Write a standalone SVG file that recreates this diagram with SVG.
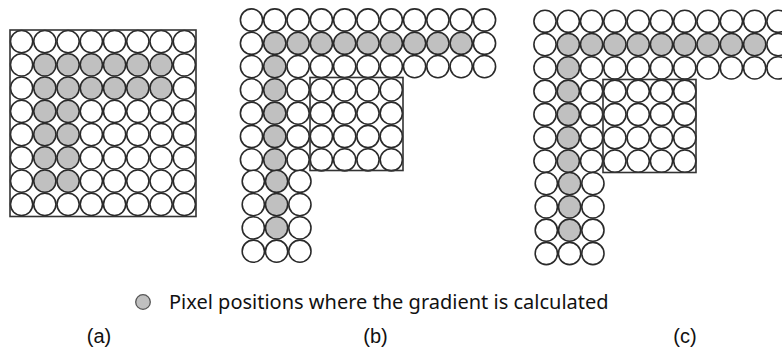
<svg xmlns="http://www.w3.org/2000/svg" width="782" height="348" viewBox="0 0 782 348">
<style>
.o{fill:#fff;stroke:#2a2a2a;stroke-width:1.6;r:11.1px}
.s{fill:#c0c0c0;stroke:#2a2a2a;stroke-width:1.6;r:11.1px}
.box{fill:none;stroke:#333;stroke-width:1.6}
.lbl{font-family:"Liberation Sans",Arial,sans-serif;font-size:20px;fill:#111;text-anchor:middle}
.leg{font-family:"Noto Sans","Open Sans",sans-serif;font-size:20px;fill:#111}
</style>
<rect width="782" height="348" fill="#fff"/>
<g id="panel-a">
<g transform="translate(0,41.6)"><circle class="o" cx="21.6"/><circle class="o" cx="44.85"/><circle class="o" cx="68.1"/><circle class="o" cx="91.35"/><circle class="o" cx="114.6"/><circle class="o" cx="137.85"/><circle class="o" cx="161.1"/><circle class="o" cx="184.35"/></g>
<g transform="translate(0,64.85)"><circle class="o" cx="21.6"/><circle class="s" cx="44.85"/><circle class="s" cx="68.1"/><circle class="s" cx="91.35"/><circle class="s" cx="114.6"/><circle class="s" cx="137.85"/><circle class="s" cx="161.1"/><circle class="o" cx="184.35"/></g>
<g transform="translate(0,88.1)"><circle class="o" cx="21.6"/><circle class="s" cx="44.85"/><circle class="s" cx="68.1"/><circle class="s" cx="91.35"/><circle class="s" cx="114.6"/><circle class="s" cx="137.85"/><circle class="s" cx="161.1"/><circle class="o" cx="184.35"/></g>
<g transform="translate(0,111.35)"><circle class="o" cx="21.6"/><circle class="s" cx="44.85"/><circle class="s" cx="68.1"/><circle class="o" cx="91.35"/><circle class="o" cx="114.6"/><circle class="o" cx="137.85"/><circle class="o" cx="161.1"/><circle class="o" cx="184.35"/></g>
<g transform="translate(0,134.6)"><circle class="o" cx="21.6"/><circle class="s" cx="44.85"/><circle class="s" cx="68.1"/><circle class="o" cx="91.35"/><circle class="o" cx="114.6"/><circle class="o" cx="137.85"/><circle class="o" cx="161.1"/><circle class="o" cx="184.35"/></g>
<g transform="translate(0,157.85)"><circle class="o" cx="21.6"/><circle class="s" cx="44.85"/><circle class="s" cx="68.1"/><circle class="o" cx="91.35"/><circle class="o" cx="114.6"/><circle class="o" cx="137.85"/><circle class="o" cx="161.1"/><circle class="o" cx="184.35"/></g>
<g transform="translate(0,181.1)"><circle class="o" cx="21.6"/><circle class="s" cx="44.85"/><circle class="s" cx="68.1"/><circle class="o" cx="91.35"/><circle class="o" cx="114.6"/><circle class="o" cx="137.85"/><circle class="o" cx="161.1"/><circle class="o" cx="184.35"/></g>
<g transform="translate(0,204.35)"><circle class="o" cx="21.6"/><circle class="o" cx="44.85"/><circle class="o" cx="68.1"/><circle class="o" cx="91.35"/><circle class="o" cx="114.6"/><circle class="o" cx="137.85"/><circle class="o" cx="161.1"/><circle class="o" cx="184.35"/></g>
<rect class="box" x="10" y="30" width="186" height="186.5"/>
</g>
<g id="panel-b">
<g transform="translate(0,20)"><circle class="o" cx="251.5"/><circle class="o" cx="274.8"/><circle class="o" cx="298.1"/><circle class="o" cx="321.4"/><circle class="o" cx="344.7"/><circle class="o" cx="368"/><circle class="o" cx="391.3"/><circle class="o" cx="414.6"/><circle class="o" cx="437.9"/><circle class="o" cx="461.2"/><circle class="o" cx="484.5"/></g>
<g transform="translate(0,43.3)"><circle class="o" cx="251.5"/><circle class="s" cx="274.8"/><circle class="s" cx="298.1"/><circle class="s" cx="321.4"/><circle class="s" cx="344.7"/><circle class="s" cx="368"/><circle class="s" cx="391.3"/><circle class="s" cx="414.6"/><circle class="s" cx="437.9"/><circle class="s" cx="461.2"/><circle class="o" cx="484.5"/></g>
<g transform="translate(0,66.6)"><circle class="o" cx="251.5"/><circle class="s" cx="274.8"/><circle class="o" cx="298.1"/><circle class="o" cx="321.4"/><circle class="o" cx="344.7"/><circle class="o" cx="368"/><circle class="o" cx="391.3"/><circle class="o" cx="414.6"/><circle class="o" cx="437.9"/><circle class="o" cx="461.2"/><circle class="o" cx="484.5"/></g>
<g transform="translate(0,89.9)"><circle class="o" cx="251.5"/><circle class="s" cx="274.8"/><circle class="o" cx="298.1"/><circle class="o" cx="321.4"/><circle class="o" cx="344.7"/><circle class="o" cx="368"/><circle class="o" cx="391.3"/></g>
<g transform="translate(0,113.2)"><circle class="o" cx="251.5"/><circle class="s" cx="274.8"/><circle class="o" cx="298.1"/><circle class="o" cx="321.4"/><circle class="o" cx="344.7"/><circle class="o" cx="368"/><circle class="o" cx="391.3"/></g>
<g transform="translate(0,136.5)"><circle class="o" cx="251.5"/><circle class="s" cx="274.8"/><circle class="o" cx="298.1"/><circle class="o" cx="321.4"/><circle class="o" cx="344.7"/><circle class="o" cx="368"/><circle class="o" cx="391.3"/></g>
<g transform="translate(0,159.8)"><circle class="o" cx="251.5"/><circle class="s" cx="274.8"/><circle class="o" cx="298.1"/><circle class="o" cx="321.4"/><circle class="o" cx="344.7"/><circle class="o" cx="368"/><circle class="o" cx="391.3"/></g>
<g transform="translate(0,181.3)"><circle class="o" cx="253.3"/><circle class="s" cx="276.6"/><circle class="o" cx="299.9"/></g>
<g transform="translate(0,204.6)"><circle class="o" cx="253.3"/><circle class="s" cx="276.6"/><circle class="o" cx="299.9"/></g>
<g transform="translate(0,227.9)"><circle class="o" cx="253.3"/><circle class="s" cx="276.6"/><circle class="o" cx="299.9"/></g>
<g transform="translate(0,251.2)"><circle class="o" cx="253.3"/><circle class="o" cx="276.6"/><circle class="o" cx="299.9"/></g>
<rect class="box" x="310" y="77.5" width="93" height="93"/>
</g>
<g id="panel-c">
<g transform="translate(0,21.3)"><circle class="o" cx="545"/><circle class="o" cx="568.3"/><circle class="o" cx="591.6"/><circle class="o" cx="614.9"/><circle class="o" cx="638.2"/><circle class="o" cx="661.5"/><circle class="o" cx="684.8"/><circle class="o" cx="708.1"/><circle class="o" cx="731.4"/><circle class="o" cx="754.7"/><circle class="o" cx="778"/></g>
<g transform="translate(0,44.6)"><circle class="o" cx="545"/><circle class="s" cx="568.3"/><circle class="s" cx="591.6"/><circle class="s" cx="614.9"/><circle class="s" cx="638.2"/><circle class="s" cx="661.5"/><circle class="s" cx="684.8"/><circle class="s" cx="708.1"/><circle class="s" cx="731.4"/><circle class="s" cx="754.7"/><circle class="o" cx="778"/></g>
<g transform="translate(0,67.9)"><circle class="o" cx="545"/><circle class="s" cx="568.3"/><circle class="o" cx="591.6"/><circle class="o" cx="614.9"/><circle class="o" cx="638.2"/><circle class="o" cx="661.5"/><circle class="o" cx="684.8"/><circle class="o" cx="708.1"/><circle class="o" cx="731.4"/><circle class="o" cx="754.7"/><circle class="o" cx="778"/></g>
<g transform="translate(0,91.2)"><circle class="o" cx="545"/><circle class="s" cx="568.3"/><circle class="o" cx="591.6"/><circle class="o" cx="614.9"/><circle class="o" cx="638.2"/><circle class="o" cx="661.5"/><circle class="o" cx="684.8"/></g>
<g transform="translate(0,114.5)"><circle class="o" cx="545"/><circle class="s" cx="568.3"/><circle class="o" cx="591.6"/><circle class="o" cx="614.9"/><circle class="o" cx="638.2"/><circle class="o" cx="661.5"/><circle class="o" cx="684.8"/></g>
<g transform="translate(0,137.8)"><circle class="o" cx="545"/><circle class="s" cx="568.3"/><circle class="o" cx="591.6"/><circle class="o" cx="614.9"/><circle class="o" cx="638.2"/><circle class="o" cx="661.5"/><circle class="o" cx="684.8"/></g>
<g transform="translate(0,161.1)"><circle class="o" cx="545"/><circle class="s" cx="568.3"/><circle class="o" cx="591.6"/><circle class="o" cx="614.9"/><circle class="o" cx="638.2"/><circle class="o" cx="661.5"/><circle class="o" cx="684.8"/></g>
<g transform="translate(0,183.6)"><circle class="o" cx="546.3"/><circle class="s" cx="569.6"/><circle class="o" cx="592.9"/></g>
<g transform="translate(0,206.9)"><circle class="o" cx="546.3"/><circle class="s" cx="569.6"/><circle class="o" cx="592.9"/></g>
<g transform="translate(0,230.2)"><circle class="o" cx="546.3"/><circle class="s" cx="569.6"/><circle class="o" cx="592.9"/></g>
<g transform="translate(0,253.5)"><circle class="o" cx="546.3"/><circle class="o" cx="569.6"/><circle class="o" cx="592.9"/></g>
<rect class="box" x="603" y="79.5" width="93" height="93"/>
</g>
<g id="legend">
<circle cx="143" cy="302" r="7.3" fill="#c0c0c0" stroke="#555" stroke-width="1.3"/>
<text class="leg" x="169" y="309">Pixel positions where the gradient is calculated</text>
</g>
<g id="labels">
<text class="lbl" x="99" y="343">(a)</text>
<text class="lbl" x="375.5" y="343">(b)</text>
<text class="lbl" x="685" y="343">(c)</text>
</g>
</svg>
